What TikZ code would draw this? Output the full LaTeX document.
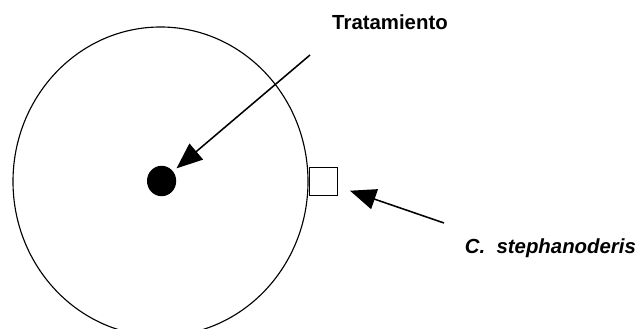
\documentclass[tikz,border=0pt]{standalone}
\usepackage{fontspec}
\setmainfont{Liberation Sans}
\usetikzlibrary{positioning, arrows.meta, shapes.geometric}

\begin{document}
\begin{tikzpicture}[
  plate/.style={draw, ellipse, line width=0.8pt, minimum width=7.375cm, minimum height=7.725cm, inner sep=0pt},
  spot/.style={fill=black, ellipse, minimum width=0.73cm, minimum height=0.76cm, inner sep=0pt},
  probe/.style={draw, line width=0.8pt, minimum size=0.7cm, inner sep=0pt},
  tag/.style={font=\fontsize{14.5}{17}\selectfont\bfseries},
  pfeil/.style={line width=1.1pt, -{Triangle[length=0.65cm, width=0.52cm]}},
]
\useasboundingbox (0,0) rectangle (15.975,8.2);

\node[plate] (plate) at (4.0125,3.6625) {};
\node[spot] (dot) at (4.04,3.675) {};
\node[probe, right=0pt of plate.east, anchor=west] (box) {};

\node[tag] (trat) at (9.75,7.65) {Tratamiento};
\node[tag, font=\fontsize{14.5}{17}\selectfont\bfseries\itshape] (steph) at (13.76,2.0) {C.~~stephanoderis};

\coordinate (tratTail) at (7.75,6.825);
\coordinate (stephTail) at (11.1,2.625);

\draw[pfeil, shorten >=0.11cm] (tratTail) -- (dot);
\draw[pfeil, shorten >=0.71cm] (stephTail) -- (box.center);
\end{tikzpicture}
\end{document}
